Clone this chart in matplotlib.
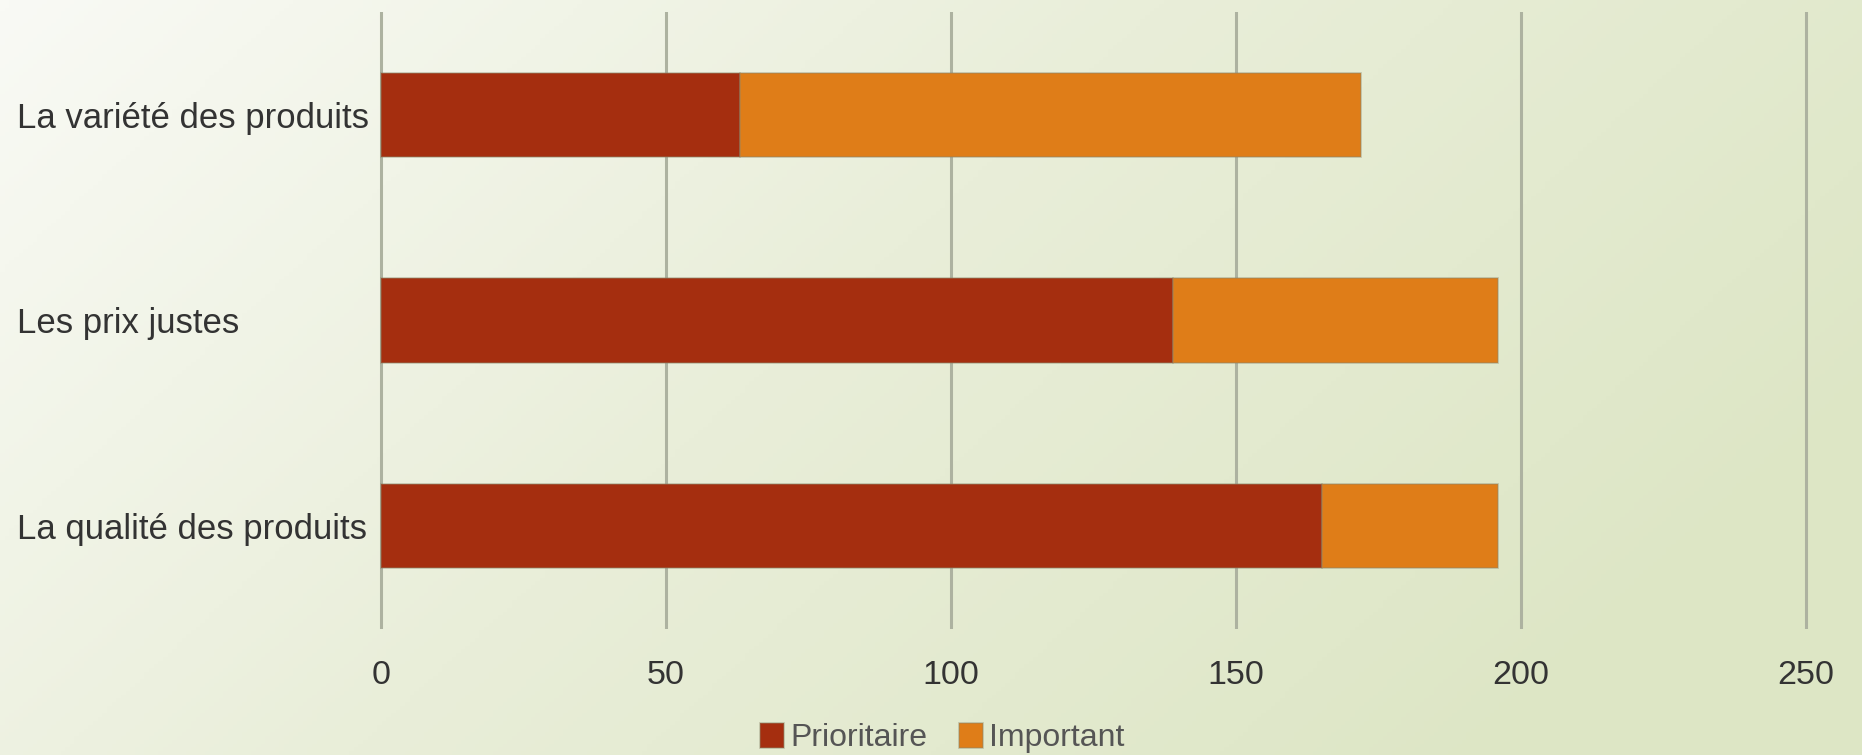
import numpy as np
import matplotlib
matplotlib.use("Agg")
import matplotlib.pyplot as plt
from matplotlib.colors import LinearSegmentedColormap

plt.rcParams['font.family'] = ['Liberation Sans', 'DejaVu Sans']

# data
categories = ["La variété des produits", "Les prix justes", "La qualité des produits"]
prioritaire = [63, 139, 165]
important = [109, 57, 31]
series_names = ["Prioritaire", "Important"]
colors = ["#a52e0f", "#df7d18"]
xticks = [0, 50, 100, 150, 200, 250]

fig = plt.figure(figsize=(18.62, 7.55), dpi=100)

# soft white-to-green gradient background
bg = fig.add_axes([0, 0, 1, 1], zorder=-10)
bg.axis("off")
gx, gy = np.meshgrid(np.linspace(0, 1, 400), np.linspace(0, 1, 200))
grad = np.clip(0.8 * gx + 0.35 * gy, 0, 1)
cmap = LinearSegmentedColormap.from_list("bg", ["#f9faf5", "#e9eed9", "#dde6c5"])
bg.imshow(grad, cmap=cmap, aspect="auto", extent=[0, 1, 0, 1], origin="upper")

ax = fig.add_axes([0.2016, 0.1669, 0.7714, 0.8172])
ax.set_facecolor("none")

y = np.arange(len(categories))
edge = (0.55, 0.53, 0.42, 0.45)
ax.barh(y, prioritaire, height=0.41, color=colors[0], label=series_names[0],
        edgecolor=edge, linewidth=1.2, zorder=3)
ax.barh(y, important, left=prioritaire, height=0.41, color=colors[1],
        label=series_names[1], edgecolor=edge, linewidth=1.2, zorder=3)

ax.set_xlim(-1, 251)
ax.set_ylim(2.5, -0.5)
ax.set_xticks(xticks)
ax.set_xticklabels([str(t) for t in xticks])
ax.set_yticks(y)
ax.set_yticklabels(categories, ha="left")

for t in xticks:
    ax.axvline(t, color="#adb2a0", linewidth=2.2, zorder=1)

for s in ax.spines.values():
    s.set_visible(False)
ax.tick_params(axis="x", length=0, pad=22, labelsize=24.5, labelcolor="#333333")
ax.tick_params(axis="y", length=0, pad=258, labelsize=25, labelcolor="#333333")

fig.legend(loc="lower center", bbox_to_anchor=(0.506, -0.036), ncol=2,
           frameon=False, fontsize=23, labelcolor="#555555",
           handlelength=0.75, handleheight=0.8, handletextpad=0.2,
           columnspacing=1.0)

fig.savefig("out.png", dpi=100)
